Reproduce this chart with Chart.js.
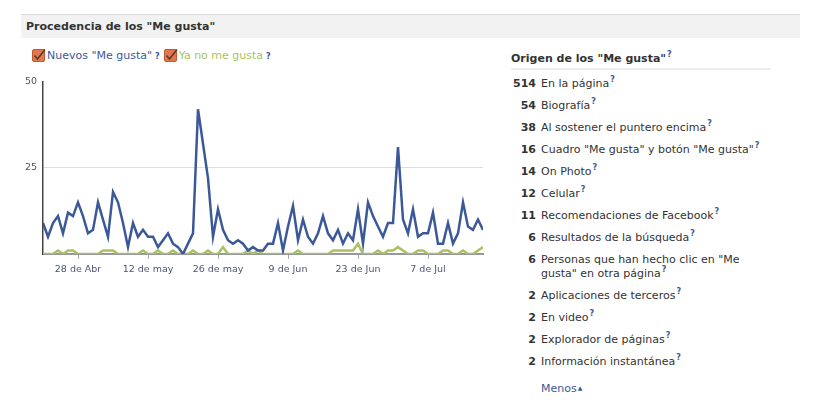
<!DOCTYPE html>
<html>
<head>
<meta charset="utf-8">
<script src="https://cdn.jsdelivr.net/npm/chart.js@4"></script>
<style>
  body { margin: 0; background: #fff; font-family: "DejaVu Sans", Verdana, sans-serif; font-size: 11px; color: #333; }
  .band { position: absolute; left: 21px; top: 14px; width: 779px; height: 23px; background: #f2f2f2; border-top: 1px solid #dcdcdc; }
  .band h1 { margin: 0; padding-left: 5px; font-size: 11px; line-height: 23px; font-weight: bold; color: #333; }
  .legend { position: absolute; left: 32px; top: 48px; line-height: 16px; white-space: nowrap; }
  .legend span.item { display: inline-block; margin-right: 4px; }
  .legend svg { vertical-align: -3px; margin-right: 1px; }
  .q { font-size: 8px; font-weight: bold; color: #3b5998; line-height: 0; }
  .legend .q { margin-left: 3px; }
  #chartBox { position: absolute; left: 0; top: 70px; }
  .side { position: absolute; left: 511px; top: 51px; width: 260px; }
  .side h2 { margin: 0; font-size: 11px; font-weight: bold; line-height: 16px; padding-bottom: 1px; border-bottom: 2px solid #eeeeee; color: #333; }
  .side h2 .q, .row .q { position: relative; top: -5px; margin-left: 1px; }
  #rows { margin-top: 3px; }
  .row { display: flex; align-items: baseline; line-height: 14.5px; padding: 3.75px 0; }
  .row b { width: 25px; text-align: right; margin-right: 5px; flex: none; }
  .row span.lbl { white-space: nowrap; }
  .menos { margin-left: 30px; margin-top: 7px; color: #3b5998; line-height: 16px; }
  .menos small { font-size: 6px; position: relative; top: -2px; margin-left: 1px; }
</style>
</head>
<body>
<div class="band"><h1>Procedencia de los "Me gusta"</h1></div>

<div class="legend" id="legend"></div>

<div id="chartBox"><canvas id="likesChart" width="490" height="210"></canvas></div>

<div class="side">
  <h2>Origen de los "Me gusta"<span class="q">?</span></h2>
  <div id="rows"></div>
  <div class="menos">Menos<small>▲</small></div>
</div>

<script>
// daily values, 21 Abr .. 18 Jul
const nuevos = [9, 5, 9, 11, 6, 12, 11, 15, 11, 6, 7, 15, 10, 5, 18, 15, 9, 2, 9, 5,
                7, 5, 5, 2, 4, 6, 3, 2, 0, 3, 6, 42, 32, 22, 5, 13, 7, 4, 3, 4,
                3, 1, 2, 1, 1, 3, 3, 9, 1, 8, 14, 4, 10, 5, 3, 6, 11, 6, 4, 7,
                3, 6, 4, 13, 3, 15, 11, 8, 5, 9, 9, 31, 10, 6, 13, 5, 6, 6, 12, 3,
                3, 9, 3, 6, 15, 8, 7, 10, 7];
const yaNo = [0, 0, 0, 1, 0, 1, 1, 0, 0, 0, 0, 0, 1, 1, 1, 0, 0, 0, 0, 0,
              1, 0, 0, 1, 0, 0, 1, 0, 0, 0, 1, 0, 0, 1, 0, 0, 2, 0, 0, 0,
              0, 1, 0, 1, 0, 0, 0, 0, 0, 0, 0, 1, 0, 0, 0, 0, 0, 0, 1, 1,
              1, 1, 1, 3, 0, 0, 0, 1, 0, 1, 1, 2, 1, 0, 0, 1, 1, 0, 0, 0,
              1, 1, 0, 0, 1, 0, 0, 1, 2];

const tickDays = [7, 21, 35, 49, 63, 77];
const tickLabels = ['28 de Abr', '12 de may', '26 de may', '9 de Jun', '23 de Jun', '7 de Jul'];
const yTicks = [25, 50];

const seriesNames = ['Nuevos "Me gusta"', 'Ya no me gusta'];
const seriesColors = ['#3b5998', '#a9c25d'];

const origenCounts = [514, 54, 38, 16, 14, 12, 11, 6, 6, 2, 2, 2, 2];
const origenLabels = ['En la página', 'Biografía', 'Al sostener el puntero encima',
  'Cuadro "Me gusta" y botón "Me gusta"', 'On Photo', 'Celular',
  'Recomendaciones de Facebook', 'Resultados de la búsqueda',
  'Personas que han hecho clic en "Me\ngusta" en otra página',
  'Aplicaciones de terceros', 'En video', 'Explorador de páginas', 'Información instantánea'];

function checkIcon() {
    return '<svg width="14" height="14" viewBox="0 0 14 14">' +
        '<rect x="0.5" y="1.5" width="12" height="12" rx="1.5" fill="#e2774d" stroke="#c05a33"/>' +
        '<path d="M2.5 7.5 L5.5 11 L13 1.5" fill="none" stroke="#5a3a2a" stroke-width="1.6"/>' +
        '</svg>';
}

function buildLegend() {
    const el = document.getElementById('legend');
    el.innerHTML = seriesNames.map((name, i) =>
        '<span class="item">' + checkIcon() +
        '<span style="color:' + seriesColors[i] + '">' + name + '</span><span class="q">?</span></span>'
    ).join('');
}

function buildRows() {
    const el = document.getElementById('rows');
    el.innerHTML = origenCounts.map((n, i) => {
        const txt = origenLabels[i].replace(/&/g, '&amp;').replace('\n', '<br>');
        return '<div class="row"><b>' + n + '</b><span class="lbl">' + txt + '<span class="q">?</span></span></div>';
    }).join('');
}

function initChart() {
    const ctx = document.getElementById('likesChart').getContext('2d');
    const series = [nuevos, yaNo];
    new Chart(ctx, {
        type: 'line',
        data: {
            datasets: series.map((vals, i) => ({
                label: seriesNames[i],
                data: vals.map((v, d) => ({ x: d, y: v })),
                borderColor: seriesColors[i],
                borderWidth: 2.5,
                pointRadius: 0,
                tension: 0,
                fill: false
            }))
        },
        options: {
            responsive: false,
            animation: false,
            layout: { padding: { top: 11, right: 7, left: 0, bottom: 0 } },
            plugins: { legend: { display: false }, tooltip: { enabled: false } },
            scales: {
                x: {
                    type: 'linear',
                    min: 0,
                    max: nuevos.length - 1,
                    afterBuildTicks: s => { s.ticks = tickDays.map(v => ({ value: v })); },
                    afterFit: s => { s.height = 26; },
                    ticks: {
                        callback: v => tickLabels[tickDays.indexOf(v)],
                        autoSkip: false,
                        maxRotation: 0,
                        padding: 5,
                        color: '#4b5670',
                        font: { family: 'DejaVu Sans', size: 9.5 }
                    },
                    grid: { drawOnChartArea: false, tickLength: 5, color: '#aaaaaa' },
                    border: { color: '#999999', width: 2 }
                },
                y: {
                    min: 0,
                    max: 50,
                    afterBuildTicks: s => { s.ticks = yTicks.map(v => ({ value: v })); },
                    afterFit: s => { s.width = 43; },
                    ticks: {
                        padding: 6,
                        color: '#555555',
                        font: { family: 'DejaVu Sans', size: 9.5 }
                    },
                    grid: {
                        drawTicks: false,
                        color: c => (c.tick && c.tick.value === 25) ? '#dddddd' : 'rgba(0,0,0,0)'
                    },
                    border: { color: '#444444', width: 1.5 }
                }
            }
        }
    });
}

window.onload = function() {
    buildLegend();
    buildRows();
    initChart();
};
</script>
</body>
</html>
